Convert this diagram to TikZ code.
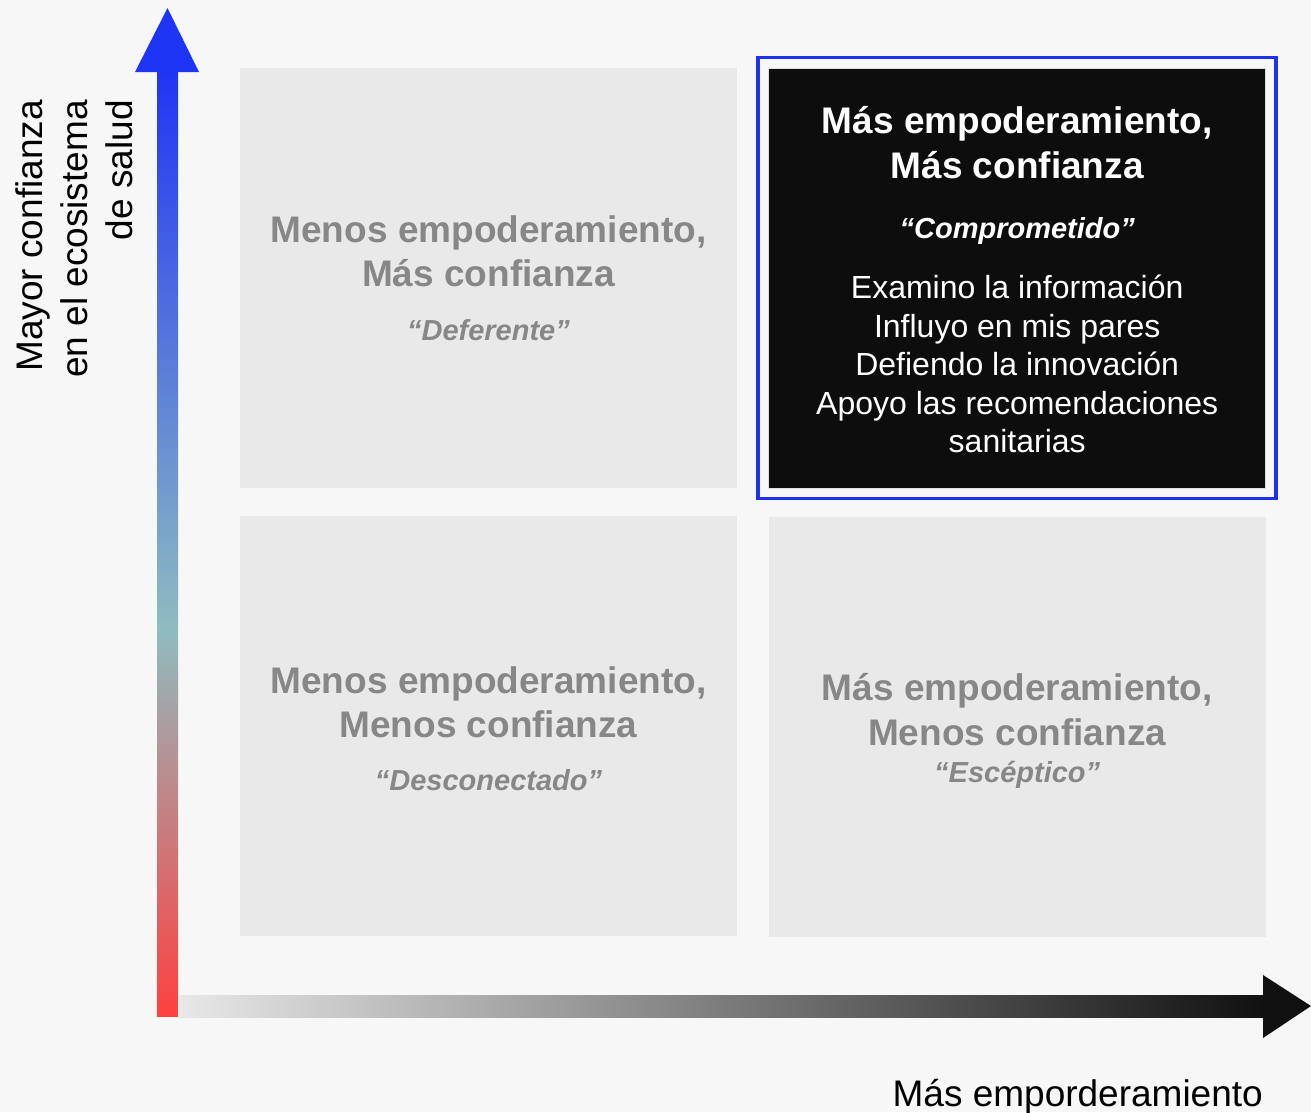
\documentclass[tikz,border=0pt]{standalone}
\usepackage{fontspec}
\setmainfont{Liberation Sans}
\usepackage{xcolor}
\usetikzlibrary{positioning,fit}
\definecolor{bgpage}{HTML}{F7F7F7}
\definecolor{quadfill}{HTML}{E9E9E9}
\definecolor{quadtext}{HTML}{878787}
\definecolor{hilite}{HTML}{0D0D0D}
\definecolor{frameblue}{HTML}{1E30F2}
\definecolor{axisblue}{HTML}{1F35F5}
\definecolor{axisteal}{HTML}{8FBCC0}
\definecolor{axisred}{HTML}{FF4040}
\definecolor{axisdark}{HTML}{111111}
\pgfdeclareverticalshading{trustshade}{100bp}{color(0bp)=(axisred); color(25bp)=(axisred); color(45.5bp)=(axisteal); color(75bp)=(axisblue); color(100bp)=(axisblue)}
\newcommand{\quadtitle}[1]{{\fontsize{37}{44.5}\selectfont\bfseries #1\par}}
\newcommand{\quadtag}[1]{{\fontsize{29}{35}\selectfont\bfseries\itshape #1\par}}
\newcommand{\quadbody}[1]{{\fontsize{32}{38.5}\selectfont #1\par}}

\begin{document}
\begin{tikzpicture}[
  x=1pt,y=-1pt,
  quad/.style={fill=quadfill,minimum width=497pt,minimum height=420pt,text width=480pt,align=flush center,inner sep=0pt,text=quadtext},
  hot/.style={quad,fill=hilite,draw=gray!25,line width=1pt,text=white},
  focus/.style={draw=frameblue,line width=3.5pt,inner sep=10pt},
  axlabel/.style={font=\fontsize{37}{45}\selectfont,inner sep=0pt,text=black}
]
\useasboundingbox[fill=bgpage] (0,0) rectangle (1311,1112);
% quadrants
\node[quad] (deferente) at (488.5,278) {\quadtitle{Menos empoderamiento,\\Más confianza}\vspace{19pt}\quadtag{“Deferente”}};
\node[hot,right=31pt of deferente] (comprometido) {\quadtitle{Más empoderamiento,\\Más confianza}\vspace{25pt}\quadtag{“Comprometido”}\vspace{22pt}\quadbody{Examino la información\\Influyo en mis pares\\Defiendo la innovación\\Apoyo las recomendaciones\\sanitarias}\vspace{-4pt}};
\node[quad,below=28pt of deferente] (desconectado) {\quadtitle{Menos empoderamiento,\\Menos confianza}\vspace{18pt}\quadtag{“Desconectado”}\vspace{-5pt}};
\node[quad,below=28pt of comprometido] (esceptico) {\quadtitle{Más empoderamiento,\\Menos confianza}\vspace{2pt}\quadtag{“Escéptico”}\vspace{-8pt}};
\node[focus,fit=(comprometido)] (marco) {};
% axes
\shade[shading=trustshade] (157,72) rectangle (178,1016);
\fill[axisblue] (135,72) -- (199,72) -- (167.5,8) -- cycle;
\shade[left color=gray!18,right color=axisdark] (178,995) rectangle (1263,1017);
\fill[axisdark] (1263,975) -- (1311,1006) -- (1263,1038) -- cycle;
\node[axlabel,align=right,rotate=90,anchor=east] (confianza) at (74,100) {Mayor confianza\\en el ecosistema\\de salud};
\node[axlabel,anchor=base east] (empoder) at (1263,1106) {Más emporderamiento};
\end{tikzpicture}
\end{document}
